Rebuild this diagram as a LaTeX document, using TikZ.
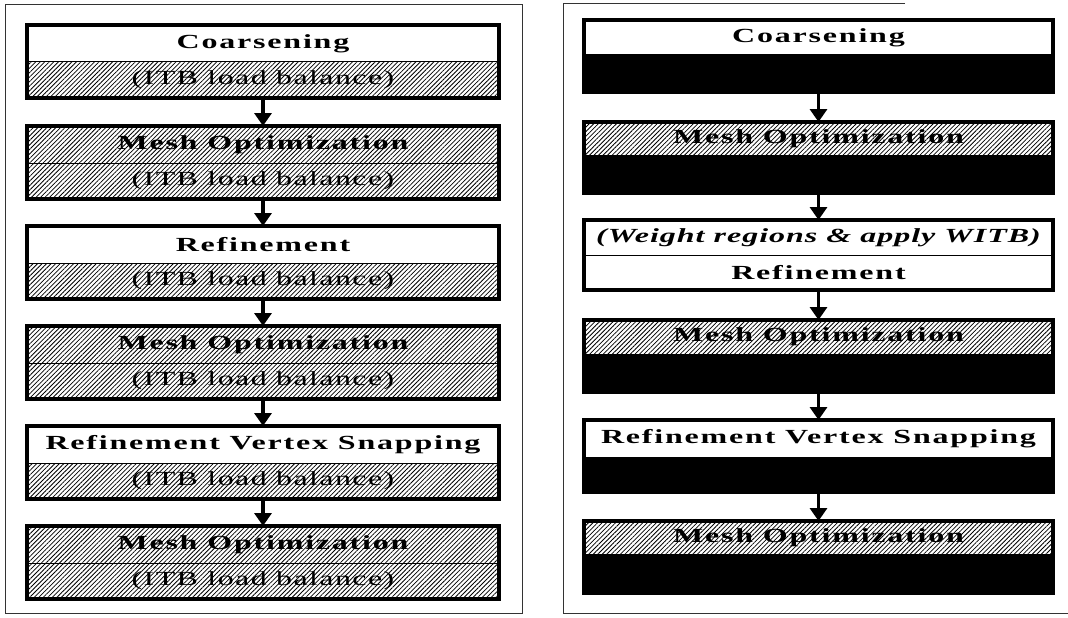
\documentclass[tikz,border=0pt]{standalone}
\usepackage{fontspec}
\setmainfont{Liberation Serif}
% wide-set serif used for all box labels
\newfontfamily\labelfont{Liberation Serif}[FakeStretch=1.6, LetterSpace=9]
\newfontfamily\notefont{Liberation Serif}[FakeStretch=1.6, LetterSpace=7]
\newfontfamily\weightfont{Liberation Serif}[FakeStretch=1.6, LetterSpace=5]
\usetikzlibrary{arrows.meta,patterns.meta}

\tikzset{
  row/.style={anchor=north west, inner sep=0pt, outer sep=0pt, draw=none},
  leftcol/.style={minimum width=472pt},
  rightcol/.style={minimum width=469pt},
  plainrow/.style={fill=white},
  hatchrow/.style={pattern={Lines[angle=45,distance=3.2pt,line width=0.8pt]}, pattern color=black},
  darkrow/.style={fill=black},
  title/.style={font=\labelfont\bfseries\fontsize{20}{24}\selectfont},
  note/.style={font=\notefont\fontsize{20}{24}\selectfont},
  weight/.style={font=\weightfont\bfseries\itshape\fontsize{20}{24}\selectfont},
  boxline/.style={line width=3.5pt},
  splitline/.style={line width=1pt},
  flow/.style={line width=3.5pt, -{Triangle[width=17pt,length=13pt]}},
  frame/.style={line width=0.9pt, black!80},
}

\begin{document}
\begin{tikzpicture}[x=1pt,y=-1pt]
\useasboundingbox (0,0) rectangle (1068,618);

% outer frames
\draw[frame] (5,4) rectangle (522,613);
\draw[frame] (905,3) -- (563,3) -- (563,613) -- (1068,613);

% ---------- left flow: every stage followed by ITB balancing ----------
\node[row, leftcol, minimum height=37pt, plainrow, title] (a1) at (27,25) {Coarsening};
\node[row, leftcol, minimum height=36pt, hatchrow, note] (a1b) at (a1.south west) {(ITB load balance)};

\node[row, leftcol, minimum height=37pt, hatchrow, title] (a2) at (27,126) {Mesh Optimization};
\node[row, leftcol, minimum height=36pt, hatchrow, note] (a2b) at (a2.south west) {(ITB load balance)};

\node[row, leftcol, minimum height=37pt, plainrow, title] (a3) at (27,226) {Refinement};
\node[row, leftcol, minimum height=36pt, hatchrow, note] (a3b) at (a3.south west) {(ITB load balance)};

\node[row, leftcol, minimum height=37pt, hatchrow, title] (a4) at (27,326) {Mesh Optimization};
\node[row, leftcol, minimum height=36pt, hatchrow, note] (a4b) at (a4.south west) {(ITB load balance)};

\node[row, leftcol, minimum height=37pt, plainrow, title] (a5) at (27,426) {Refinement Vertex Snapping};
\node[row, leftcol, minimum height=36pt, hatchrow, note] (a5b) at (a5.south west) {(ITB load balance)};

\node[row, leftcol, minimum height=37pt, hatchrow, title] (a6) at (27,526) {Mesh Optimization};
\node[row, leftcol, minimum height=36pt, hatchrow, note] (a6b) at (a6.south west) {(ITB load balance)};

\foreach \n in {a1,a2,a3,a4,a5,a6}{
  \draw[splitline] (\n.south west) -- (\n.south east);
  \draw[boxline] (\n.north west) rectangle (\n b.south east);
}
\draw[flow] (a1b.south) -- (a2.north);
\draw[flow] (a2b.south) -- (a3.north);
\draw[flow] (a3b.south) -- (a4.north);
\draw[flow] (a4b.south) -- (a5.north);
\draw[flow] (a5b.south) -- (a6.north);

% ---------- right flow: weighted ITB before refinement ----------
\node[row, rightcol, minimum height=35pt, plainrow, title] (b1) at (584,20) {Coarsening};
\node[row, rightcol, minimum height=37pt, darkrow] (b1b) at (b1.south west) {};

\node[row, rightcol, minimum height=33pt, hatchrow, title] (b2) at (584,122) {Mesh Optimization};
\node[row, rightcol, minimum height=38pt, darkrow] (b2b) at (b2.south west) {};

\node[row, rightcol, minimum height=35pt, plainrow, weight] (b3) at (584,220) {(Weight regions \& apply WITB)};
\node[row, rightcol, minimum height=35pt, plainrow, title] (b3b) at (b3.south west) {Refinement};

\node[row, rightcol, minimum height=34pt, hatchrow, title] (b4) at (584,320) {Mesh Optimization};
\node[row, rightcol, minimum height=38pt, darkrow] (b4b) at (b4.south west) {};

\node[row, rightcol, minimum height=37pt, plainrow, title] (b5) at (584,420) {Refinement Vertex Snapping};
\node[row, rightcol, minimum height=35pt, darkrow] (b5b) at (b5.south west) {};

\node[row, rightcol, minimum height=33pt, hatchrow, title] (b6) at (584,521) {Mesh Optimization};
\node[row, rightcol, minimum height=39pt, darkrow] (b6b) at (b6.south west) {};

\foreach \n in {b1,b2,b3,b4,b5,b6}{
  \draw[splitline] (\n.south west) -- (\n.south east);
  \draw[boxline] (\n.north west) rectangle (\n b.south east);
}
\draw[flow] (b1b.south) -- (b2.north);
\draw[flow] (b2b.south) -- (b3.north);
\draw[flow] (b3b.south) -- (b4.north);
\draw[flow] (b4b.south) -- (b5.north);
\draw[flow] (b5b.south) -- (b6.north);
\end{tikzpicture}
\end{document}
